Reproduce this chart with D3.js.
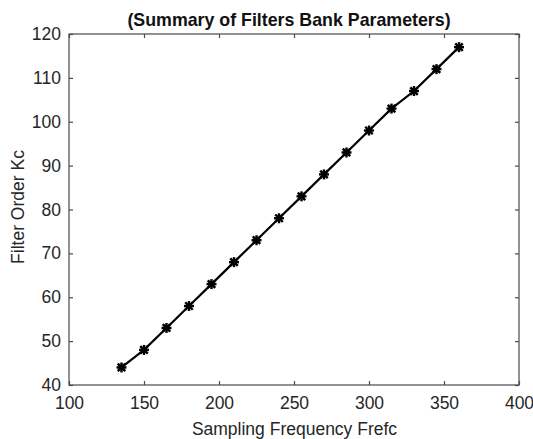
<!DOCTYPE html>
<html><head><meta charset="utf-8">
<script src="https://cdn.jsdelivr.net/npm/d3@7"></script>
<style>body{margin:0;background:#fff}svg{display:block;font-family:"Liberation Sans",Arial,sans-serif}</style>
</head><body>
<script>
const freq = [135,150,165,180,195,210,225,240,255,270,285,300,315,330,345,360];
const order = [44,48,53,58,63,68,73,78,83,88,93,98,103,107,112,117];
const xTicks = [100,150,200,250,300,350,400];
const yTicks = [40,50,60,70,80,90,100,110,120];
const title = "(Summary of Filters Bank Parameters)";
const xLabel = "Sampling Frequency Frefc";
const yLabel = "Filter Order Kc";

const W = 533, H = 439;
const m = {l:69, r:14, t:34, b:54};
const svg = d3.select("body").append("svg").attr("width",W).attr("height",H);
const x = d3.scaleLinear().domain([100,400]).range([m.l, W-m.r]);
const y = d3.scaleLinear().domain([40,120]).range([H-m.b, m.t]);
const axCol = "#4a4a4a", txtCol = "#262626";
const fs = 17.5;

svg.append("rect").attr("x",m.l).attr("y",m.t).attr("width",W-m.r-m.l).attr("height",H-m.b-m.t)
  .attr("fill","#fff").attr("stroke",axCol).attr("stroke-width",1.2);

function styleAxis(g){
  g.select(".domain").remove();
  g.selectAll("line").attr("stroke",axCol).attr("stroke-width",1.2);
  g.selectAll("text").attr("fill",txtCol).attr("font-size",fs);
}
svg.append("g").attr("transform",`translate(0,${H-m.b})`)
  .call(d3.axisBottom(x).tickValues(xTicks).tickSizeInner(-4).tickSizeOuter(0).tickPadding(12))
  .call(styleAxis);
svg.append("g").attr("transform",`translate(0,${m.t})`)
  .call(d3.axisTop(x).tickValues(xTicks).tickSizeInner(-4).tickSizeOuter(0).tickFormat(""))
  .call(styleAxis);
svg.append("g").attr("transform",`translate(${m.l},0)`)
  .call(d3.axisLeft(y).tickValues(yTicks).tickSizeInner(-4).tickSizeOuter(0).tickPadding(8))
  .call(styleAxis);
svg.append("g").attr("transform",`translate(${W-m.r},0)`)
  .call(d3.axisRight(y).tickValues(yTicks).tickSizeInner(-4).tickSizeOuter(0).tickFormat(""))
  .call(styleAxis);

const pts = freq.map((f,i)=>({x:f,y:order[i]}));
svg.append("path").datum(pts).attr("fill","none").attr("stroke","#000").attr("stroke-width",2.2)
  .attr("d", d3.line().x(d=>x(d.x)).y(d=>y(d.y)));

const mk = svg.append("g").selectAll("g").data(pts).join("g")
  .attr("transform",d=>`translate(${x(d.x)},${y(d.y)})`);
const r = 5;
[[0,-r,0,r],[-r,0,r,0],[-r*0.75,-r*0.75,r*0.75,r*0.75],[-r*0.75,r*0.75,r*0.75,-r*0.75]].forEach(s=>{
  mk.append("line").attr("x1",s[0]).attr("y1",s[1]).attr("x2",s[2]).attr("y2",s[3])
    .attr("stroke","#000").attr("stroke-width",2.4);
});
mk.append("circle").attr("r",3).attr("fill","#000");

svg.append("text").attr("x",289).attr("y",25.5).attr("text-anchor","middle")
  .attr("font-size",17.8).attr("font-weight","bold").attr("fill","#111").text(title);
svg.append("text").attr("x",294.5).attr("y",435).attr("text-anchor","middle")
  .attr("font-size",fs).attr("fill",txtCol).text(xLabel);
svg.append("text").attr("transform",`translate(24,207) rotate(-90)`).attr("text-anchor","middle")
  .attr("font-size",fs).attr("fill",txtCol).text(yLabel);
</script>
</body></html>
